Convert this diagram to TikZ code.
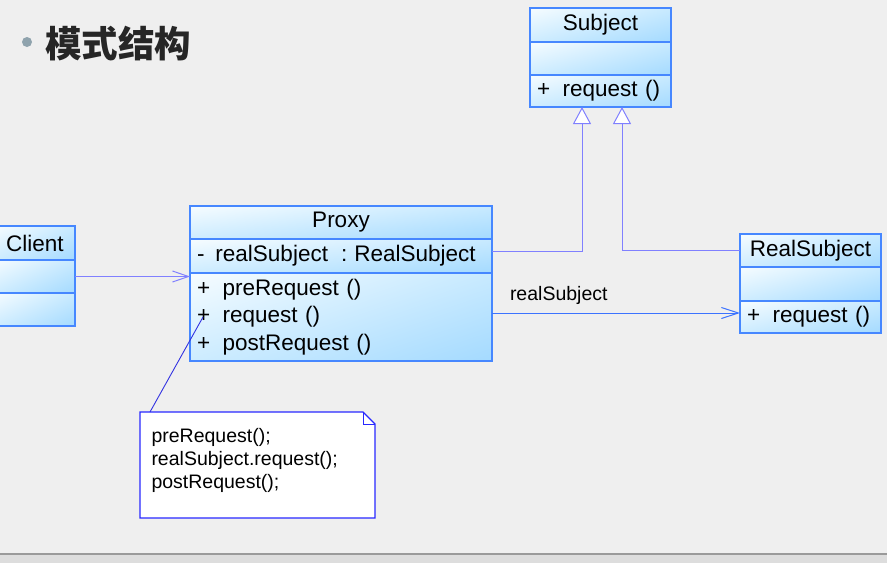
\documentclass[tikz,border=0pt]{standalone}
\usepackage{fontspec}
\setmainfont{Liberation Sans}
\newfontfamily\cjk{Noto Sans CJK SC}
\usetikzlibrary{arrows.meta,shadings}
\definecolor{bg}{HTML}{EFEFEF}
\definecolor{barfill}{HTML}{DDDDDD}
\definecolor{barline}{HTML}{9A9A9A}
\definecolor{bulletc}{HTML}{8FA3AD}
\definecolor{clsborder}{RGB}{70,135,255}
\definecolor{inhc}{RGB}{128,128,255}
\definecolor{assoc}{RGB}{60,115,255}
\definecolor{notec}{RGB}{40,40,255}
\definecolor{linkc}{RGB}{50,50,225}
\definecolor{shUL}{HTML}{F6FCFF}
\definecolor{shUR}{HTML}{C8EAFF}
\definecolor{shLL}{HTML}{CDECFF}
\definecolor{shLR}{HTML}{A4DAFF}
\newcommand{\plusgap}{+\hspace{12.5pt}}
\tikzset{
  comp/.style={draw=clsborder, line width=1.2pt, rectangle, inner xsep=7pt, inner ysep=0pt, outer sep=0pt,
    upper left=shUL, upper right=shUR, lower left=shLL, lower right=shLR,
    anchor=north west, font=\fontsize{22.5}{27.5}\selectfont},
  hdr/.style={comp, align=center},
  body/.style={comp, align=left},
  inh/.style={draw=inhc, line width=1pt, -{Triangle[length=17pt,width=18pt,fill=white]}},
  dep/.style={draw=inhc, line width=1pt, -{Straight Barb[length=16pt,width=11pt]}},
  asc/.style={draw=assoc, line width=1pt, -{Straight Barb[length=17pt,width=11pt]}},
  noteshape/.style={draw=notec, fill=white, line width=1.2pt, line join=miter},
  lbl/.style={inner sep=0pt, outer sep=0pt, font=\fontsize{19.5}{23}\selectfont, align=left},
}
\begin{document}
\begin{tikzpicture}[x=1pt,y=-1pt]
\useasboundingbox (0,0) rectangle (887,563);
\fill[bg] (0,0) rectangle (887,563);
\fill[barfill] (0,554) rectangle (887,563);
\draw[barline, line width=1.5pt] (0,554) -- (887,554);

% title
\node[circle, fill=bulletc, minimum size=10pt, inner sep=0pt] (bul) at (27,42) {};
\node[anchor=west, inner sep=0pt, font=\cjk\bfseries\fontsize{36.5}{36.5}\selectfont, text=black!85] (title) at (45,44) {模式结构};

% Subject
\node[hdr, minimum width=141pt, minimum height=34pt, text width=127pt] (sbH) at (530,8) {Subject};
\node[body, minimum width=141pt, minimum height=33pt, text width=127pt] (sbA) at (sbH.south west) {};
\node[body, minimum width=141pt, minimum height=32pt, text width=127pt] (sbO) at (sbA.south west) {\plusgap request ()};

% Proxy
\node[hdr, minimum width=302pt, minimum height=33pt, text width=288pt] (pxH) at (190,206) {Proxy};
\node[body, minimum width=302pt, minimum height=34pt, text width=288pt] (pxA) at (pxH.south west) {-\hspace{11pt}realSubject\hspace{13pt}:\hspace{7pt}RealSubject};
\node[body, minimum width=302pt, minimum height=88pt, text width=288pt] (pxO) at (pxA.south west) {\plusgap preRequest ()\\\plusgap request ()\\\plusgap postRequest ()};

% Client
\node[hdr, minimum width=80pt, minimum height=34pt, text width=66pt] (clH) at (-5,226) {Client};
\node[body, minimum width=80pt, minimum height=33pt, text width=66pt] (clA) at (clH.south west) {};
\node[body, minimum width=80pt, minimum height=33pt, text width=66pt] (clO) at (clA.south west) {};

% RealSubject
\node[hdr, minimum width=141pt, minimum height=33pt, text width=127pt] (rsH) at (740,234) {RealSubject};
\node[body, minimum width=141pt, minimum height=34pt, text width=127pt] (rsA) at (rsH.south west) {};
\node[body, minimum width=141pt, minimum height=32pt, text width=127pt] (rsO) at (rsA.south west) {\plusgap request ()};

% connectors
\draw[inh] ([yshift=5pt]pxA.east) -| ([xshift=-18.5pt]sbO.south);
\draw[inh] (rsH.west) -| ([xshift=21.5pt]sbO.south);
\draw[dep] (clA.east) -- (clA.east -| pxA.west);
\draw[asc] ([yshift=4pt]pxO.east) -- node[lbl, pos=0, anchor=west, xshift=18pt, yshift=18pt] (ascl) {realSubject} ([yshift=4pt]rsO.west);

% note
\node[anchor=north west, minimum width=235pt, minimum height=106pt, inner sep=0pt, outer sep=0pt] (note) at (140,412) {};
\draw[noteshape] (note.north west) -- ([xshift=-12pt]note.north east) -- ([yshift=-12pt]note.north east)
  -- (note.south east) -- (note.south west) -- cycle;
\draw[draw=notec, line width=1pt] ([xshift=-12pt]note.north east) -- ([xshift=-12pt,yshift=-12pt]note.north east) -- ([yshift=-12pt]note.north east);
\node[lbl, anchor=north west] (notetext) at ([xshift=11.5pt,yshift=-16pt]note.north west) {preRequest();\\realSubject.request();\\postRequest();};
\draw[draw=linkc, line width=0.9pt] ([xshift=10pt]note.north west) -- ([xshift=13pt]pxO.west);
\end{tikzpicture}
\end{document}
